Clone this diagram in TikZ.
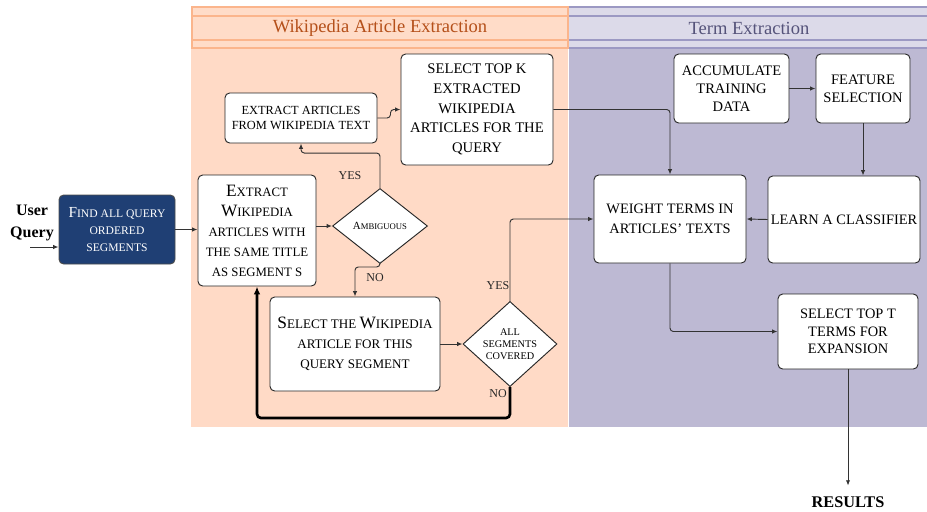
\documentclass[tikz,border=0pt]{standalone}
\usepackage{fontspec}
\setmainfont{Liberation Serif}
\usetikzlibrary{shapes.geometric,arrows.meta}

\definecolor{wikibody}{HTML}{FFDAC6}
\definecolor{wikihead}{HTML}{FFDCC8}
\definecolor{wikiedge}{HTML}{FBB58C}
\definecolor{wikitext}{HTML}{B5501A}
\definecolor{termbody}{HTML}{BDB9D3}
\definecolor{termhead}{HTML}{DCDAE9}
\definecolor{termedge}{HTML}{9C99C3}
\definecolor{termtext}{HTML}{55537A}
\definecolor{queryblue}{HTML}{1F3F74}

\newcommand{\initcap}[1]{{\fontsize{13}{15}\selectfont #1}}

\tikzset{
  box/.style={draw=black!85, fill=white, rounded corners=3.5pt, align=center, line width=0.7pt, inner sep=1pt},
  dims/.style 2 args={minimum width=#1*0.75pt, minimum height=#2*0.75pt},
  choice/.style={diamond, draw=black!85, fill=white, align=center, line width=0.7pt, inner sep=0pt},
  flow/.style={draw=black!80, line width=0.7pt, rounded corners=2.5pt, -{Latex[length=4pt,width=3.2pt]}},
  loopback/.style={draw=black, line width=2pt, rounded corners=3pt, -{Latex[length=6pt,width=5pt]}},
  lbl/.style={font=\fontsize{9}{10}\selectfont, text=black!85},
  headline/.style={font=\fontsize{13.9}{16}\selectfont}
}

\begin{document}
\begin{tikzpicture}[x=0.75pt,y=-0.75pt]

\useasboundingbox (0,0) rectangle (927,511);

\fill[wikibody] (191,48) rectangle (568,427);
\fill[termbody] (569,48) rectangle (927,427);
\fill[wikihead] (192,7) rectangle (568,48);
\fill[termhead] (569,7) rectangle (927,48);
\draw[wikiedge, line width=0.8pt] (192,7) rectangle (568,48) (192,16) -- (568,16) (192,40) -- (568,40);
\draw[termedge, line width=0.8pt] (569,7) -- (927,7) (569,16) -- (927,16) (569,40) -- (927,40) (569,48) -- (927,48);
\draw (380,28) node[headline, text=wikitext] (wikititle) {Wikipedia Article Extraction};
\draw (749,28) node[headline, text=termtext] (termtitle) {Term Extraction};

\draw (32,223) node[align=center, font=\fontsize{12}{16}\selectfont\bfseries] (user) {User\\Query};
\coordinate (qin) at (30,247);

\draw (117,229.5) node[box, dims={116}{69}, fill=queryblue, draw=black!70, text=white,
  font=\fontsize{8.7}{12.8}\selectfont] (find) {{\fontsize{11.5}{12.8}\selectfont F}IND ALL QUERY\\ORDERED\\SEGMENTS};
\draw[flow] (qin) to (qin -| find.west);

\draw (257,230.5) node[box, dims={118}{111}, font=\fontsize{9.6}{15}\selectfont] (xwiki)
  {\initcap{E}XTRACT\\\initcap{W}IKIPEDIA\\ARTICLES WITH\\THE SAME TITLE\\AS SEGMENT S};
\draw[flow] (find.east) to (xwiki.west |- find.east);

\draw (380,226) node[choice, dims={95}{75}, font=\fontsize{6.5}{7}\selectfont] (amb)
  {{\fontsize{8.2}{7}\selectfont A}MBIGUOUS};
\draw[flow] (amb.west -| xwiki.east) to (amb.west);

\draw (301,118) node[box, dims={152}{50}, font=\fontsize{9.3}{11}\selectfont] (xart)
  {EXTRACT ARTICLES\\FROM WIKIPEDIA TEXT};
\draw (477,109.5) node[box, dims={152}{111}, font=\fontsize{11}{14.8}\selectfont] (topk)
  {SELECT TOP K\\EXTRACTED\\WIKIPEDIA\\ARTICLES FOR THE\\QUERY};
\draw[flow] (amb.north) -- ++(0,-35) -| (xart.south);
\draw (350,176) node[lbl] (ambyes) {YES};
\draw[flow] (xart.east) -- ++(13,0) |- (topk.west);

\draw (355,344) node[box, dims={170}{94}, font=\fontsize{9.8}{15}\selectfont] (selart)
  {\initcap{S}ELECT THE \initcap{W}IKIPEDIA\\ARTICLE FOR THIS\\QUERY SEGMENT};
\draw[flow] (amb.south) -- ++(0,3) -| (selart.north);
\draw (375,278) node[lbl] (ambno) {NO};

\draw (510,344) node[choice, dims={94}{74}, font=\fontsize{7.7}{9}\selectfont] (allseg)
  {ALL\\SEGMENTS\\COVERED};
\draw[flow] (selart.east) to (allseg.west);

\draw (670,219) node[box, dims={152}{88}, font=\fontsize{10.8}{15}\selectfont] (weight)
  {WEIGHT TERMS IN\\ARTICLES’ TEXTS};
\draw[flow] (allseg.north) |- (weight.west);
\draw (498,286) node[lbl] (allyes) {YES};
\draw[loopback] (allseg.south) -- ++(0,31) -| (xwiki.south);
\draw (498,394) node[lbl] (allno) {NO};
\draw[flow] (topk.east) -| (weight.north);

\draw (731.5,88.5) node[box, dims={115}{69}, font=\fontsize{10.9}{13.5}\selectfont] (accum)
  {ACCUMULATE\\TRAINING\\DATA};
\draw (863,88.5) node[box, dims={94}{69}, font=\fontsize{10.9}{13.5}\selectfont] (feat)
  {FEATURE\\SELECTION};
\draw[flow] (accum.east) to (feat.west);

\draw (844,219.5) node[box, dims={152}{87}, font=\fontsize{10.8}{13.5}\selectfont] (learn)
  {LEARN A CLASSIFIER};
\draw[flow] (feat.south) to (feat.south |- learn.north);
\draw[flow] (learn.west) to (weight.east);

\draw (848,331.5) node[box, dims={140}{75}, font=\fontsize{10.8}{13}\selectfont] (topt)
  {SELECT TOP T\\TERMS FOR\\EXPANSION};
\draw[flow] (weight.south) |- (topt.west);

\draw (848,502) node[inner sep=8pt, font=\fontsize{12.2}{13}\selectfont\bfseries] (results) {RESULTS};
\draw[flow] (topt.south) to (results.north);

\end{tikzpicture}
\end{document}
